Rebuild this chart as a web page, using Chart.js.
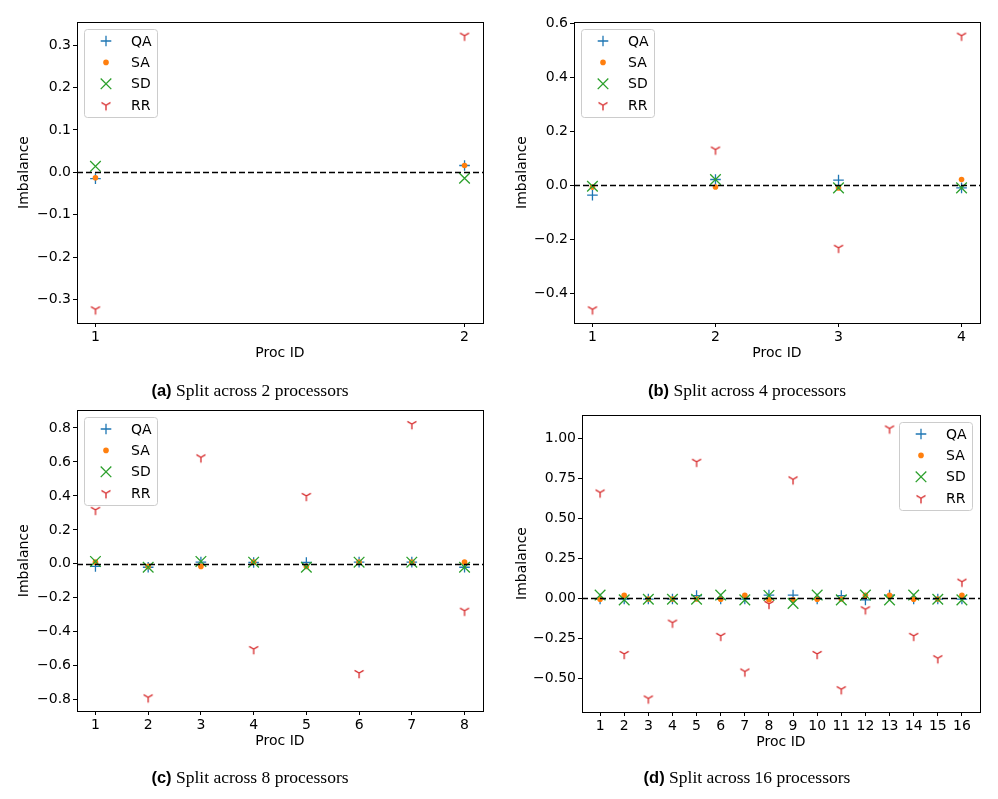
<!DOCTYPE html>
<html lang="en">
<head>
<meta charset="UTF-8">
<title>Imbalance per processor</title>
<script src="https://cdn.jsdelivr.net/npm/chart.js@4.4.0/dist/chart.umd.min.js"></script>
<style>
  body { margin: 0; background: #fff; width: 998px; height: 799px; position: relative; overflow: hidden; }
  canvas { position: absolute; }
  .cap { position: absolute; height: 20px; line-height: 20px; transform: translateX(-50%); white-space: nowrap;
         font-family: "Liberation Serif", serif; font-size: 17.5px; color: #000; }
  .cap b { font-family: "Liberation Sans", sans-serif; font-size: 16.5px; }
</style>
</head>
<body>
<canvas id="p2" width="498" height="400" style="left:0;top:0"></canvas>
<canvas id="p4" width="500" height="400" style="left:498px;top:0"></canvas>
<canvas id="p8" width="498" height="399" style="left:0;top:400px"></canvas>
<canvas id="p16" width="500" height="399" style="left:498px;top:400px"></canvas>
<div class="cap" style="left:250px;top:380px"><b>(a)</b> Split across 2 processors</div>
<div class="cap" style="left:747px;top:380px"><b>(b)</b> Split across 4 processors</div>
<div class="cap" style="left:250px;top:767px"><b>(c)</b> Split across 8 processors</div>
<div class="cap" style="left:747px;top:767px"><b>(d)</b> Split across 16 processors</div>

<script>
const seriesNames = ['QA', 'SA', 'SD', 'RR'];

// 2 processors
const qa2 = [-0.015, 0.016];
const sa2 = [-0.013, 0.016];
const sd2 = [0.014, -0.014];
const rr2 = [-0.323, 0.322];

// 4 processors
const qa4 = [-0.037, 0.021, 0.019, -0.01];
const sa4 = [-0.007, -0.007, -0.01, 0.021];
const sd4 = [-0.004, 0.021, -0.01, -0.01];
const rr4 = [-0.46, 0.132, -0.232, 0.554];

// 8 processors
const qa8 = [-0.015, -0.02, 0.01, 0.008, 0.008, 0.01, 0.01, -0.02];
const sa8 = [0.01, -0.015, -0.015, 0.01, -0.015, 0.01, 0.01, 0.01];
const sd8 = [0.014, -0.02, 0.014, 0.01, -0.02, 0.01, 0.01, -0.02];
const rr8 = [0.318, -0.786, 0.627, -0.502, 0.4, -0.643, 0.823, -0.276];

// 16 processors
const qa16 = [-0.005, -0.005, -0.005, -0.005, 0.017, -0.005, -0.005, 0.02, 0.02, -0.005, 0.017, -0.01, 0.02, -0.005, -0.005, -0.005];
const sa16 = [-0.006, 0.018, -0.005, -0.005, -0.005, -0.006, 0.018, -0.01, -0.01, -0.006, -0.005, 0.018, 0.018, -0.006, -0.005, 0.018];
const sd16 = [0.02, -0.01, -0.006, -0.006, -0.006, 0.02, -0.01, 0.018, -0.032, 0.02, -0.01, 0.02, -0.01, 0.02, -0.006, -0.01];
const rr16 = [0.662, -0.348, -0.627, -0.152, 0.854, -0.235, -0.458, -0.035, 0.744, -0.348, -0.569, -0.069, 1.062, -0.235, -0.375, 0.104];

// tick values
const yTicks2 = [-0.3, -0.2, -0.1, 0, 0.1, 0.2, 0.3];
const yTicks4 = [-0.4, -0.2, 0, 0.2, 0.4, 0.6];
const yTicks8 = [-0.8, -0.6, -0.4, -0.2, 0, 0.2, 0.4, 0.6, 0.8];
const yTicks16 = [-0.5, -0.25, 0, 0.25, 0.5, 0.75, 1.0];

const colors = ['#1f77b4', '#ff7f0e', '#2ca02c', '#d62728'];
const font = { family: 'DejaVu Sans', size: 14 };

// matplotlib "tri_down" marker
const tri = document.createElement('canvas');
tri.width = 14; tri.height = 14;
(function () {
    const c = tri.getContext('2d');
    const r = 5.2;
    c.strokeStyle = colors[3];
    c.lineWidth = 1.3;
    c.beginPath();
    c.moveTo(7, 7); c.lineTo(7, 7 + r);
    c.moveTo(7, 7); c.lineTo(7 - 0.866 * r, 7 - 0.5 * r);
    c.moveTo(7, 7); c.lineTo(7 + 0.866 * r, 7 - 0.5 * r);
    c.stroke();
})();

const frame = {
    id: 'frame',
    afterDatasetsDraw(chart) {
        const ctx = chart.ctx, a = chart.chartArea;
        const y0 = Math.round(chart.scales.y.getPixelForValue(0)) + 0.5;
        ctx.save();
        ctx.strokeStyle = '#000';
        ctx.lineWidth = 1.3;
        ctx.setLineDash([6, 3]);
        ctx.beginPath(); ctx.moveTo(a.left, y0); ctx.lineTo(a.right, y0); ctx.stroke();
        ctx.setLineDash([]);
        ctx.lineWidth = 1;
        ctx.strokeRect(Math.round(a.left) + 0.5, Math.round(a.top) + 0.5,
            Math.round(a.right - a.left), Math.round(a.bottom - a.top));
        ctx.restore();
    }
};

const innerLegend = {
    id: 'innerLegend',
    afterDraw(chart, args, opts) {
        const ctx = chart.ctx, a = chart.chartArea;
        const w = 73, h = 88;
        const x0 = Math.round(opts.side === 'right' ? a.right - 8 - w : a.left + 7);
        const y0 = Math.round(a.top + 7);
        ctx.save();
        ctx.fillStyle = 'rgba(255,255,255,0.8)';
        ctx.strokeStyle = '#cccccc';
        ctx.lineWidth = 1;
        ctx.beginPath();
        ctx.roundRect(x0 + 0.5, y0 + 0.5, w, h, 3);
        ctx.fill(); ctx.stroke();
        chart.data.datasets.forEach((ds, i) => {
            const cy = y0 + 12 + i * 21.4;
            ctx.strokeStyle = ds.borderColor;
            ctx.fillStyle = ds.backgroundColor;
            ctx.lineWidth = ds.borderWidth;
            Chart.helpers.drawPoint(ctx, {
                pointStyle: ds.pointStyle, radius: ds.pointRadius, borderWidth: ds.borderWidth, rotation: 0
            }, x0 + 22, cy);
            ctx.fillStyle = '#000';
            ctx.font = '14px "DejaVu Sans"';
            ctx.textBaseline = 'middle';
            ctx.textAlign = 'left';
            ctx.fillText(ds.label, x0 + 47, cy + 1);
        });
        ctx.restore();
    }
};

function fmt(v, d) {
    const s = Math.abs(v).toFixed(d);
    return v < -1e-9 ? '\u2212' + s : s;
}

function makePanel(id, series, yTicks, decimals, side, area) {
    const el = document.getElementById(id);
    const n = series[0].length;
    const all = series.flat();
    const lo = Math.min(...all), hi = Math.max(...all);
    const ids = series[0].map((v, i) => i + 1);

    const styles = [
        { pointStyle: 'cross', pointRadius: 5.3, borderWidth: 1.3 },
        { pointStyle: 'circle', pointRadius: 2.8, borderWidth: 0 },
        { pointStyle: 'crossRot', pointRadius: 7.5, borderWidth: 1.3 },
        { pointStyle: tri, pointRadius: 5, borderWidth: 1.3 }
    ];
    const datasets = series.map((vals, k) => Object.assign({
        label: seriesNames[k],
        data: vals.map((v, i) => ({ x: ids[i], y: v })),
        borderColor: colors[k],
        backgroundColor: colors[k],
        pointHoverRadius: styles[k].pointRadius,
        order: 4 - k
    }, styles[k]));

    new Chart(el, {
        type: 'scatter',
        data: { datasets: datasets },
        options: {
            responsive: false,
            animation: false,
            layout: {
                padding: { left: 0, top: area.top, right: el.width - area.right, bottom: el.height - area.bottom - 40 }
            },
            plugins: {
                legend: { display: false },
                tooltip: { enabled: false },
                innerLegend: { side: side }
            },
            scales: {
                x: {
                    type: 'linear',
                    min: 1 - 0.05 * (n - 1),
                    max: n + 0.05 * (n - 1),
                    afterBuildTicks: s => { s.ticks = ids.map(v => ({ value: v })); },
                    afterFit: s => { s.height = 40; },
                    grid: { display: true, drawOnChartArea: false, drawTicks: true, tickLength: 4, color: '#000' },
                    border: { display: false },
                    ticks: { font: font, color: '#000', padding: 2, maxRotation: 0, autoSkip: false },
                    title: { display: true, text: 'Proc ID', font: font, color: '#000', padding: { top: 0, bottom: 1.6 } }
                },
                y: {
                    type: 'linear',
                    min: lo - 0.05 * (hi - lo),
                    max: hi + 0.05 * (hi - lo),
                    afterBuildTicks: s => { s.ticks = yTicks.map(v => ({ value: v })); },
                    afterFit: s => { s.width = area.left; },
                    grid: { display: true, drawOnChartArea: false, drawTicks: true, tickLength: 4, color: '#000' },
                    border: { display: false },
                    ticks: { font: font, color: '#000', padding: 2, callback: v => fmt(v, decimals) },
                    title: { display: true, text: 'Imbalance', font: font, color: '#000', padding: { top: 15.5, bottom: 0 } }
                }
            }
        },
        plugins: [frame, innerLegend]
    });
}

makePanel('p2', [qa2, sa2, sd2, rr2], yTicks2, 1, 'left', { left: 77, top: 22, right: 483, bottom: 323 });
makePanel('p4', [qa4, sa4, sd4, rr4], yTicks4, 1, 'left', { left: 76, top: 22, right: 482, bottom: 323 });
makePanel('p8', [qa8, sa8, sd8, rr8], yTicks8, 1, 'left', { left: 77, top: 9, right: 483, bottom: 311 });
makePanel('p16', [qa16, sa16, sd16, rr16], yTicks16, 2, 'right', { left: 84, top: 15, right: 482, bottom: 312 });
</script>
</body>
</html>
